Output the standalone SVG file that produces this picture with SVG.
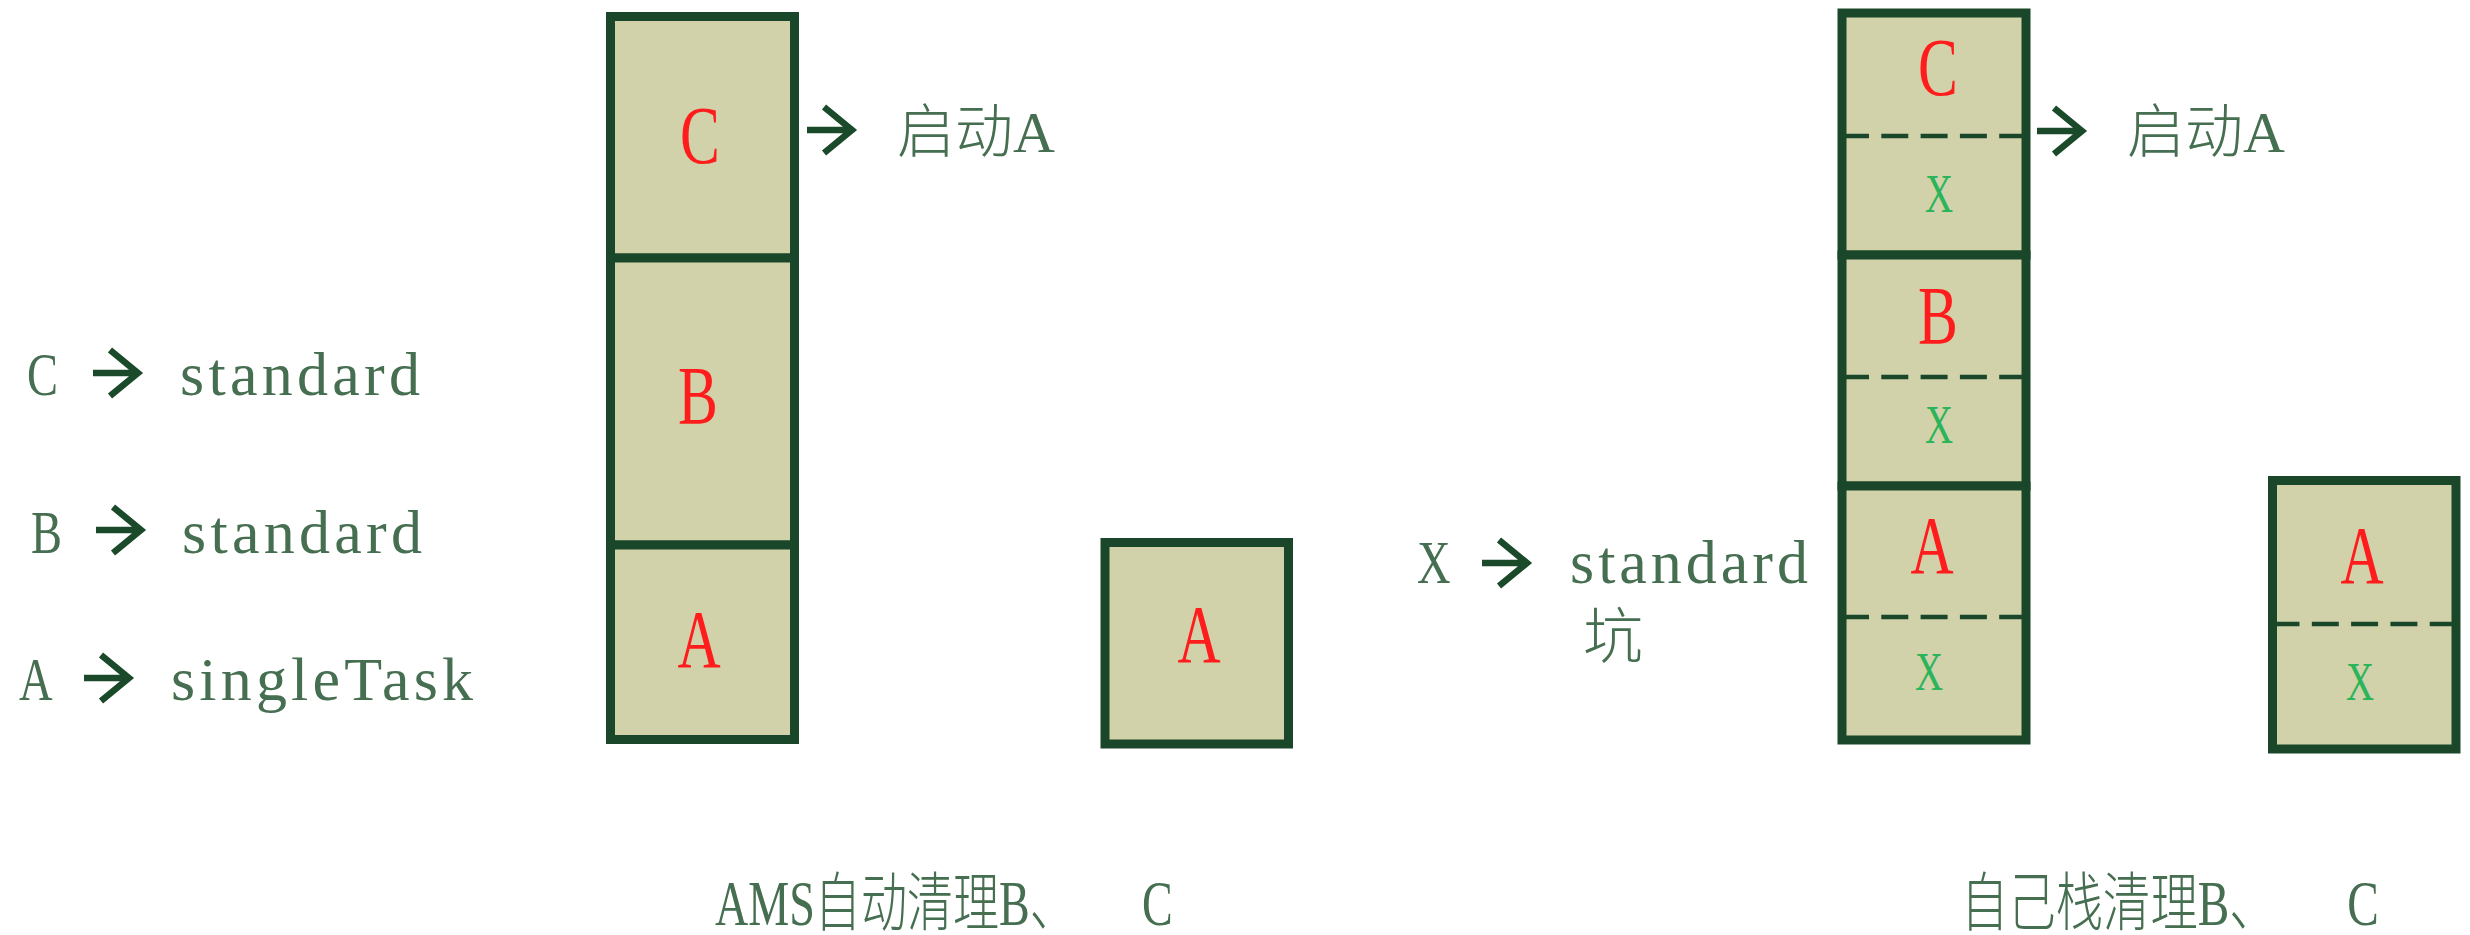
<svg xmlns="http://www.w3.org/2000/svg" width="2470" height="935" viewBox="0 0 2470 935">
<defs>
<path id="arw" d="M0,0 H44 M17,-23 L45,0 L17,23" fill="none" stroke="#1b4a2b" stroke-width="6.5" stroke-linejoin="miter"/>
</defs>
<style>
.box{fill:#d2d2aa;stroke:#1a4629;stroke-width:9}
.dash{stroke:#1a4629;stroke-width:4.5;stroke-dasharray:27 12.3;fill:none}
.red{font-family:"Liberation Serif",serif;font-size:83px;fill:#ff1c1c;text-anchor:middle}
.grn{font-family:"Liberation Serif",serif;font-size:54px;fill:#2cb45a;text-anchor:middle}
.lbl{font-family:"Liberation Serif",serif;font-size:62px;fill:#466e50}
.cn{font-family:"Liberation Serif","Noto Sans CJK SC",serif;font-size:58px;font-weight:300;fill:#466e50}
</style>
<rect width="2470" height="935" fill="#ffffff"/>

<g id="legend-c"><text class="lbl" transform="translate(27,395) scale(0.75,1)">C</text><text class="lbl" x="180" y="395" textLength="240" lengthAdjust="spacing">standard</text></g>
<g id="legend-b"><text class="lbl" transform="translate(31,553) scale(0.75,1)">B</text><text class="lbl" x="182" y="553" textLength="240" lengthAdjust="spacing">standard</text></g>
<g id="legend-a"><text class="lbl" transform="translate(19,700) scale(0.75,1)">A</text><text class="lbl" x="171" y="700" textLength="302" lengthAdjust="spacing">singleTask</text></g>

<g id="stack1">
<g id="s1-c"><rect class="box" x="610.5" y="16.5" width="184" height="241.5"/><text class="red" transform="translate(700,163) scale(0.72,1)">C</text></g>
<g id="s1-b"><rect class="box" x="610.5" y="258" width="184" height="287"/><text class="red" transform="translate(698,423) scale(0.72,1)">B</text></g>
<g id="s1-a"><rect class="box" x="610.5" y="545" width="184" height="194.5"/><text class="red" transform="translate(699,667) scale(0.72,1)">A</text></g>
</g>
<g id="start-a-1"><text class="cn" x="897" y="152">启动A</text></g>

<g id="box-a1"><rect class="box" x="1105" y="542.5" width="183.5" height="201.5"/><text class="red" transform="translate(1199,662) scale(0.72,1)">A</text></g>

<g id="legend-x"><text class="lbl" transform="translate(1417,583) scale(0.75,1)">X</text><text class="lbl" x="1570" y="583" textLength="238" lengthAdjust="spacing">standard</text><text class="cn" style="font-size:60px" x="1583" y="658">坑</text></g>

<g id="stack2">
<g id="s2-c"><rect class="box" x="1842" y="13" width="184" height="242"/><line class="dash" x1="1842" y1="136" x2="2026" y2="136"/><text class="red" transform="translate(1938,95) scale(0.72,1)">C</text><text class="grn" transform="translate(1939,212) scale(0.72,1)">X</text></g>
<g id="s2-b"><rect class="box" x="1842" y="255" width="184" height="231"/><line class="dash" x1="1842" y1="377" x2="2026" y2="377"/><text class="red" transform="translate(1938,343) scale(0.72,1)">B</text><text class="grn" transform="translate(1939,443) scale(0.72,1)">X</text></g>
<g id="s2-a"><rect class="box" x="1842" y="486" width="184" height="254"/><line class="dash" x1="1842" y1="617" x2="2026" y2="617"/><text class="red" transform="translate(1932,573) scale(0.72,1)">A</text><text class="grn" transform="translate(1929,690) scale(0.72,1)">X</text></g>
</g>
<g id="start-a-2"><text class="cn" x="2127" y="152">启动A</text></g>

<g id="box-a2"><rect class="box" x="2272.5" y="480.5" width="183.5" height="268.5"/><line class="dash" x1="2272.5" y1="624" x2="2456" y2="624"/><text class="red" transform="translate(2362,583) scale(0.72,1)">A</text><text class="grn" transform="translate(2360,700) scale(0.72,1)">X</text></g>

<g id="caption-1"><text class="cn" style="font-size:64px" transform="translate(715,925) scale(0.72,1)">AMS自动清理B、<tspan x="593">C</tspan></text></g>
<g id="caption-2"><text class="cn" style="font-size:64px" transform="translate(1961,925) scale(0.74,1)">自己栈清理B、<tspan x="522">C</tspan></text></g>

<g id="connectors">
<use href="#arw" x="93" y="373"/>
<use href="#arw" x="96" y="530"/>
<use href="#arw" x="84" y="678"/>
<use href="#arw" x="807" y="130"/>
<use href="#arw" x="2037" y="131"/>
<use href="#arw" x="1482" y="563"/>
</g>
</svg>
